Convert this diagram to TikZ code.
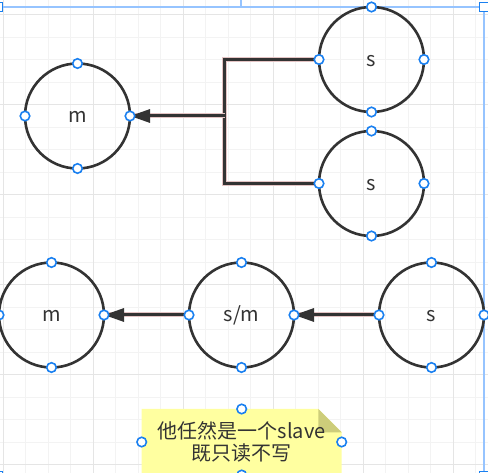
\documentclass[tikz,border=0pt]{standalone}
\usepackage{fontspec}
\newfontfamily\cjk{Noto Sans CJK SC}
\usetikzlibrary{arrows.meta,positioning}
\definecolor{ink}{RGB}{51,51,51}
\definecolor{halo}{RGB}{228,196,196}
\definecolor{pinblue}{RGB}{26,128,240}
\definecolor{selblue}{RGB}{150,196,255}
\definecolor{gridminor}{RGB}{243,243,243}
\definecolor{gridmajor}{RGB}{229,229,229}
\definecolor{notefill}{RGB}{255,255,160}
\definecolor{notefold}{RGB}{205,205,122}

\begin{document}
\begin{tikzpicture}[x=1pt,y=-1pt,
  role/.style={circle,draw=ink,line width=2.6pt,minimum size=105pt,inner sep=0pt,outer sep=0pt,
    text height=14pt,text depth=0pt,font=\cjk\fontsize{20}{24}\selectfont,text=ink},
  pin/.style={circle,draw=pinblue,fill=white,line width=1.6pt,minimum size=9.5pt,inner sep=0pt},
  handle/.style={rectangle,draw=pinblue,fill=white,line width=1.6pt,minimum size=9pt,inner sep=0pt},
  feed/.style={draw=ink,line width=2.4pt,line join=miter,preaction={draw=halo,line width=4.4pt}},
  feedtip/.style={draw=ink,line width=3pt,-{Triangle[length=20pt,width=13pt]},
    preaction={draw=halo,line width=5pt,arrows=-}},
  notebox/.style={rectangle,minimum width=200pt,minimum height=66pt,inner sep=0pt,outer sep=0pt,
    align=center,font=\cjk\fontsize{20}{22.3}\selectfont,text=ink,
    path picture={
      \fill[notefill] (path picture bounding box.north west)
        -- ([xshift=-23.4pt]path picture bounding box.north east)
        -- ([yshift=-23.3pt]path picture bounding box.north east)
        -- (path picture bounding box.south east)
        -- (path picture bounding box.south west) -- cycle;
      \fill[notefold] ([xshift=-23.4pt]path picture bounding box.north east)
        -- ([xshift=-23.4pt,yshift=-23.3pt]path picture bounding box.north east)
        -- ([yshift=-23.3pt]path picture bounding box.north east) -- cycle;}}]
\useasboundingbox (0,0) rectangle (488,473);
\clip (0,0) rectangle (488,473);
\fill[white] (0,0) rectangle (488,473);
\foreach \g in {0,...,21} \draw[gridminor,line width=1pt] (3.3+22.5*\g,0) -- (3.3+22.5*\g,473);
\foreach \g in {0,...,21} \draw[gridminor,line width=1pt] (0,-7.5+22.5*\g) -- (488,-7.5+22.5*\g);
\foreach \g in {0,...,5} \draw[gridmajor,line width=1pt] (3.3+90*\g,0) -- (3.3+90*\g,473);
\foreach \g in {0,...,5} \draw[gridmajor,line width=1pt] (0,15+90*\g) -- (488,15+90*\g);

\coordinate (selnw) at (-2,7);
\coordinate (selse) at (484,476);
\coordinate (seltop) at (241,0);
\draw[selblue,line width=1.2pt] (selnw) rectangle (selse);
\draw[selblue,line width=1.2pt] (seltop) -- (seltop |- selnw);

\node[role] (mA) at (77.5,116) {m};
\node[role] (sA) at (371.5,59.5) {s};
\node[role,below=19pt of sA] (sB) {s};
\node[role] (mB) at (51.5,315) {m};
\node[role,right=85pt of mB] (sm) {s/m};
\node[role,right=85pt of sm] (sC) {s};
\node[notebox] (nt) at (241.7,442) {他任然是一个slave\\既只读不写};

\coordinate (jn) at (224.5,116);
\draw[feed] (sA.west) -| (jn) |- (sB.west);
\draw[feedtip] (jn) -- (mA.east);
\draw[feedtip] (sC.west) -- (sm.east);
\draw[feedtip] (sm.west) -- (mB.east);

\foreach \n in {mA,sA,sB,mB,sm,sC,nt}
  \foreach \a in {north,east,south,west}
    \node[pin] at (\n.\a) {};
\node[handle] at (selnw) {};
\node[handle] at (selnw -| selse) {};
\node[handle] at (selse) {};
\node[handle] at (selnw |- selse) {};
\end{tikzpicture}
\end{document}
